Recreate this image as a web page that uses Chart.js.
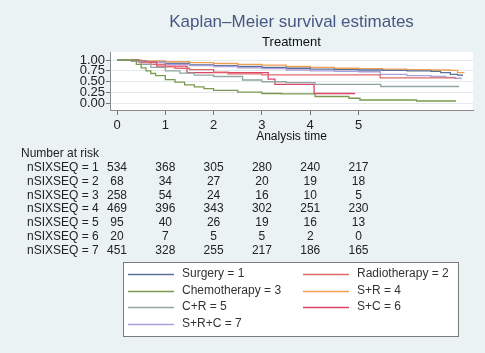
<!DOCTYPE html>
<html>
<head>
<meta charset="utf-8">
<script src="https://cdn.jsdelivr.net/npm/chart.js"></script>
<style>
  html, body { margin: 0; padding: 0; background: #eaf2f3; }
  canvas { display: block; }
</style>
</head>
<body>
<canvas id="kmChart" width="485" height="353"></canvas>
<script>
// group names and colours
const groupLabels = ['Surgery = 1', 'Radiotherapy = 2', 'Chemotherapy = 3', 'S+R = 4', 'C+R = 5', 'S+C = 6', 'S+R+C = 7'];
const groupColors = ['#5b6f97', '#e06a6a', '#7a9a50', '#f0a050', '#8fa6a3', '#dc4468', '#a9a0dc'];

// survival curves (time, survival)
const surgeryTime = [0, 0.3, 0.6, 1, 1.5, 2, 2.5, 3, 3.5, 4, 4.5, 5, 5.5, 6, 6.5, 6.7, 6.9, 7.05, 7.15];
const surgerySurv = [1, 0.98, 0.95, 0.92, 0.89, 0.87, 0.85, 0.83, 0.81, 0.79, 0.78, 0.77, 0.76, 0.75, 0.74, 0.71, 0.67, 0.65, 0.63];

const radioTime = [0, 0.3, 0.5, 0.7, 1, 1.2, 1.5, 2, 2.3, 3, 5.45, 7.0];
const radioSurv = [1, 0.97, 0.94, 0.90, 0.84, 0.81, 0.78, 0.72, 0.68, 0.66, 0.59, 0.59];

const chemoTime = [0, 0.27, 0.4, 0.5, 0.6, 0.7, 0.8, 1, 1.2, 1.4, 1.6, 1.8, 2, 2.5, 3, 3.4, 4.1, 4.8, 5.03, 6.2, 7.02];
const chemoSurv = [1, 1, 0.90, 0.82, 0.75, 0.69, 0.64, 0.55, 0.49, 0.43, 0.38, 0.34, 0.30, 0.26, 0.23, 0.22, 0.16, 0.12, 0.08, 0.057, 0.057];

const srTime = [0, 0.5, 1, 1.5, 2, 2.5, 3, 3.5, 4, 4.5, 5, 5.5, 6, 6.5, 6.9, 7.05, 7.18];
const srSurv = [1, 0.98, 0.96, 0.94, 0.92, 0.90, 0.88, 0.85, 0.83, 0.81, 0.80, 0.79, 0.78, 0.77, 0.76, 0.71, 0.70];

const crTime = [0, 0.3, 0.5, 0.7, 1, 1.3, 1.6, 2, 2.6, 3, 3.5, 4.1, 5.46, 7.08];
const crSurv = [1, 0.97, 0.90, 0.83, 0.75, 0.70, 0.65, 0.62, 0.54, 0.50, 0.48, 0.44, 0.39, 0.39];

const scTime = [0, 0.45, 0.82, 1.45, 3.13, 3.27, 4.08, 4.93];
const scSurv = [1, 0.95, 0.86, 0.71, 0.56, 0.44, 0.23, 0.23];

const srcTime = [0, 0.3, 0.6, 1, 1.5, 2, 2.5, 3, 3.5, 4, 4.5, 5, 5.45, 6, 6.5, 6.8, 7.0, 7.12];
const srcSurv = [1, 0.97, 0.94, 0.90, 0.87, 0.85, 0.82, 0.80, 0.77, 0.75, 0.74, 0.73, 0.67, 0.64, 0.62, 0.60, 0.58, 0.56];

// number at risk table
const riskTimes = [0, 1, 2, 3, 4, 5];
const riskRowLabels = ['nSIXSEQ = 1', 'nSIXSEQ = 2', 'nSIXSEQ = 3', 'nSIXSEQ = 4', 'nSIXSEQ = 5', 'nSIXSEQ = 6', 'nSIXSEQ = 7'];
const risk1 = [534, 368, 305, 280, 240, 217];
const risk2 = [68, 34, 27, 20, 19, 18];
const risk3 = [258, 54, 24, 16, 10, 5];
const risk4 = [469, 396, 343, 302, 251, 230];
const risk5 = [95, 40, 26, 19, 16, 13];
const risk6 = [20, 7, 5, 5, 2, 0];
const risk7 = [451, 328, 255, 217, 186, 165];
const riskRows = [risk1, risk2, risk3, risk4, risk5, risk6, risk7];

const xTicks = [0, 1, 2, 3, 4, 5];
const yTicks = [0, 0.25, 0.5, 0.75, 1];

const curves = [
  [surgeryTime, surgerySurv],
  [radioTime, radioSurv],
  [chemoTime, chemoSurv],
  [srTime, srSurv],
  [crTime, crSurv],
  [scTime, scSurv],
  [srcTime, srcSurv]
];

const FONT = '"Liberation Sans", Arial, sans-serif';

// draw order: later ones on top
const drawOrder = [2, 4, 1, 5, 6, 0, 3];
const datasets = drawOrder.map(i => ({
  label: groupLabels[i],
  data: curves[i][0].map((t, k) => ({ x: t, y: curves[i][1][k] })),
  borderColor: groupColors[i],
  borderWidth: 1.3,
  pointRadius: 0,
  // horizontal first, then drop (KM step)
  stepped: 'before',
  fill: false
}));

const extras = {
  id: 'extras',
  beforeDraw(chart) {
    const a = chart.chartArea;
    const c = chart.ctx;
    c.save();
    c.fillStyle = '#ffffff';
    c.fillRect(a.left, a.top, a.right - a.left, a.bottom - a.top);
    c.restore();
  },
  afterDraw(chart) {
    const a = chart.chartArea;
    const c = chart.ctx;
    const xs = chart.scales.x;
    const mid = (a.left + a.right) / 2;
    c.save();
    c.textBaseline = 'middle';

    // titles
    c.textAlign = 'center';
    c.fillStyle = '#475783';
    c.font = '17px ' + FONT;
    c.fillText('Kaplan\u2013Meier survival estimates', mid, 22);
    c.fillStyle = '#111';
    c.font = '13px ' + FONT;
    c.fillText('Treatment', mid, 42);

    // number at risk
    c.font = '12px ' + FONT;
    c.fillStyle = '#222';
    c.textAlign = 'left';
    c.fillText('Number at risk', 21, 154);
    riskRows.forEach((row, r) => {
      const y = 168 + r * 13.7;
      c.textAlign = 'left';
      c.fillText(riskRowLabels[r], 27, y);
      c.textAlign = 'center';
      row.forEach((n, k) => c.fillText(String(n), xs.getPixelForValue(riskTimes[k]), y));
    });

    // legend box
    c.fillStyle = '#ffffff';
    c.fillRect(123, 262, 335, 74);
    c.strokeStyle = '#7a7a7a';
    c.lineWidth = 1;
    c.strokeRect(123.5, 262.5, 335, 74);
    c.textAlign = 'left';
    groupLabels.forEach((lab, i) => {
      const col = i % 2;
      const row = Math.floor(i / 2);
      const lx = col === 0 ? 128 : 303;
      const y = 274 + row * 16.5;
      c.strokeStyle = groupColors[i];
      c.lineWidth = 1.5;
      c.beginPath();
      c.moveTo(lx, Math.round(y) + 0.5);
      c.lineTo(lx + 46, Math.round(y) + 0.5);
      c.stroke();
      c.fillStyle = '#333';
      c.fillText(lab, lx + 54, y);
    });
    c.restore();
  }
};

new Chart(document.getElementById('kmChart'), {
  type: 'line',
  data: { datasets: datasets },
  options: {
    responsive: false,
    animation: false,
    layout: { padding: { left: 0, right: 12, top: 52, bottom: 207 } },
    plugins: {
      legend: { display: false },
      tooltip: { enabled: false }
    },
    scales: {
      x: {
        type: 'linear',
        min: -0.145,
        max: 7.37,
        afterBuildTicks: s => { s.ticks = xTicks.map(v => ({ value: v })); },
        afterFit: s => { s.height = 36; },
        ticks: {
          font: { family: FONT, size: 13 },
          color: '#222',
          padding: 3,
          maxRotation: 0,
          autoSkip: false,
          callback: v => String(v)
        },
        grid: { drawOnChartArea: false, tickLength: 5, tickColor: '#777' },
        border: { color: '#8a8a8a' },
        title: {
          display: true,
          text: 'Analysis time',
          font: { family: FONT, size: 12 },
          color: '#111',
          padding: { top: 0, bottom: 2 }
        }
      },
      y: {
        type: 'linear',
        min: -0.15,
        max: 1.184,
        afterBuildTicks: s => { s.ticks = yTicks.map(v => ({ value: v })); },
        afterFit: s => { s.width = 110; },
        ticks: {
          font: { family: FONT, size: 13 },
          color: '#222',
          padding: 1,
          autoSkip: false,
          callback: v => Number(v).toFixed(2)
        },
        grid: { color: '#e6eaec', tickLength: 4, tickColor: '#777' },
        border: { color: '#8a8a8a' }
      }
    }
  },
  plugins: [extras]
});
</script>
</body>
</html>
